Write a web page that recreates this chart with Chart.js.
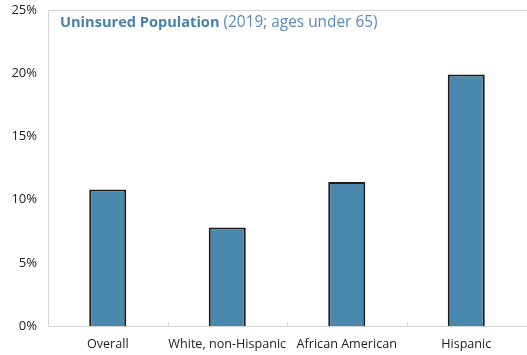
<!DOCTYPE html>
<html><head><meta charset="utf-8">
<script src="https://cdn.jsdelivr.net/npm/chart.js@4/dist/chart.umd.min.js"></script>
<style>html,body{margin:0;padding:0;background:#fff}#wrap{width:527px;height:355px}</style>
</head><body><div id="wrap"><canvas id="c" width="527" height="355"></canvas></div>
<script>
const categories = ["Overall", "White, non-Hispanic", "African American", "Hispanic"];
const uninsuredPct = [10.8, 7.8, 11.4, 19.9];
const yTicks = [0, 5, 10, 15, 20, 25];
const titleBold = "Uninsured Population";
const titleRest = " (2019; ages under 65)";

const frame = {
  id: 'frame',
  afterDatasetsDraw(chart) {
    const {ctx, chartArea: a, scales} = chart;
    ctx.save();
    ctx.strokeStyle = '#d4d4d4';
    ctx.lineWidth = 1;
    ctx.beginPath();
    ctx.moveTo(a.right + 0.5, a.top + 0.5);
    ctx.lineTo(a.left + 0.5, a.top + 0.5);
    ctx.lineTo(a.left + 0.5, a.bottom + 0.5);
    ctx.lineTo(a.right + 0.5, a.bottom + 0.5);
    ctx.stroke();
    const x = scales.x;
    ctx.beginPath();
    for (let i = 1; i < categories.length; i++) {
      const px = Math.round((x.getPixelForTick(i - 1) + x.getPixelForTick(i)) / 2) + 0.5;
      ctx.moveTo(px, a.bottom - 4);
      ctx.lineTo(px, a.bottom);
    }
    ctx.stroke();
    ctx.font = 'bold 14.6px "Open Sans", sans-serif';
    ctx.fillStyle = '#4a80b0';
    ctx.textBaseline = 'middle';
    const tx = a.left + 12, ty = a.top + 13;
    ctx.fillText(titleBold, tx, ty);
    const w = ctx.measureText(titleBold).width;
    ctx.font = '15.4px "Open Sans", sans-serif';
    ctx.fillStyle = '#5a8ab8';
    ctx.fillText(titleRest, tx + w, ty);
    ctx.restore();
  }
};

new Chart(document.getElementById('c'), {
  type: 'bar',
  data: {
    labels: categories,
    datasets: [{
      data: uninsuredPct,
      backgroundColor: '#4a89ad',
      borderColor: '#1c1c1c',
      borderWidth: 2,
      barPercentage: 0.31,
      categoryPercentage: 1
    }]
  },
  options: {
    responsive: false,
    animation: false,
    layout: {padding: {top: 10, right: 1, left: 0, bottom: 0}},
    plugins: {legend: {display: false}, tooltip: {enabled: false}},
    scales: {
      x: {
        grid: {display: false, drawTicks: false},
        border: {display: false},
        ticks: {color: '#222', font: {family: '"Open Sans", sans-serif', size: 12.6}, padding: 11, maxRotation: 0, autoSkip: false},
        afterFit: s => { s.height = 29; s.paddingLeft = 0; s.paddingRight = 0; }
      },
      y: {
        min: 0, max: 25,
        afterBuildTicks: s => { s.ticks = yTicks.map(v => ({value: v})); },
        grid: {display: false, drawTicks: false},
        border: {display: false},
        ticks: {color: '#222', font: {family: '"Open Sans", sans-serif', size: 13}, padding: 11, callback: v => v + '%'},
        afterFit: s => { s.width = 48; s.paddingTop = 0; s.paddingBottom = 0; }
      }
    }
  },
  plugins: [frame]
});
</script></body></html>
